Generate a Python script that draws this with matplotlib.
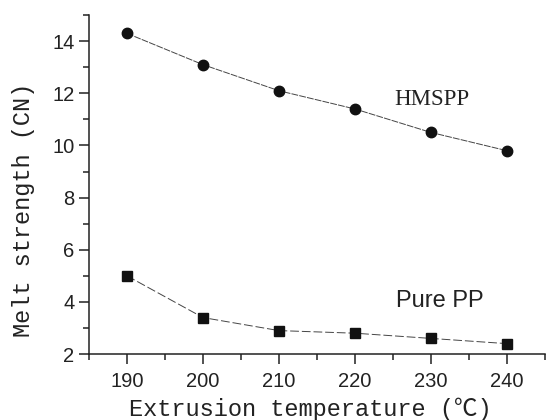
import matplotlib
matplotlib.use("Agg")
import matplotlib.pyplot as plt
from matplotlib.ticker import MultipleLocator

temperature = [190, 200, 210, 220, 230, 240]
hmspp = [14.3, 13.1, 12.1, 11.4, 10.5, 9.8]
pure_pp = [5.0, 3.4, 2.9, 2.8, 2.6, 2.4]

fig = plt.figure(figsize=(5.48, 4.2), dpi=100)
ax = fig.add_axes([0.1624, 0.157, 0.832, 0.807])

ax.plot(temperature, hmspp, color="#444444", lw=0.7, dashes=(7, 1.2),
        marker="o", ms=7.5, mfc="#111111", mec="#111111")
ax.plot(temperature, pure_pp, color="#444444", lw=0.7, dashes=(9, 3),
        marker="s", ms=7, mfc="#111111", mec="#111111")

ax.set_xlim(185, 245)
ax.set_ylim(2, 15)
ax.xaxis.set_major_locator(MultipleLocator(10))
ax.xaxis.set_minor_locator(MultipleLocator(5))
ax.yaxis.set_major_locator(MultipleLocator(2))
ax.yaxis.set_minor_locator(MultipleLocator(1))

for s in ("top", "right"):
    ax.spines[s].set_visible(False)
for s in ("left", "bottom"):
    ax.spines[s].set_linewidth(1.1)
    ax.spines[s].set_color("#222222")

ax.tick_params(which="major", direction="out", length=7, width=1.1,
               labelsize=14.5, colors="#222222")
ax.tick_params(axis="x", which="major", pad=6)
ax.tick_params(which="minor", direction="out", length=4, width=1.1,
               colors="#222222")
for lab in ax.get_xticklabels() + ax.get_yticklabels():
    lab.set_family("Liberation Sans")

label_font = ["Liberation Mono", "Noto Sans CJK SC"]
ax.set_xlabel("Extrusion temperature (℃)", family=label_font, fontsize=17,
              color="#222222")
ax.set_ylabel("Melt strength (CN)", family=label_font, fontsize=17,
              color="#222222")
ax.xaxis.set_label_coords(0.485, -0.127)
ax.yaxis.set_label_coords(-0.118, 0.425)

ax.text(230.1, 11.75, "HMSPP", family="Liberation Serif", fontsize=16.5,
        ha="center", va="center", color="#222222")
ax.text(231.2, 4.05, "Pure PP", family="Liberation Sans", fontsize=17,
        ha="center", va="center", color="#222222")

fig.savefig("out.png", dpi=100)
